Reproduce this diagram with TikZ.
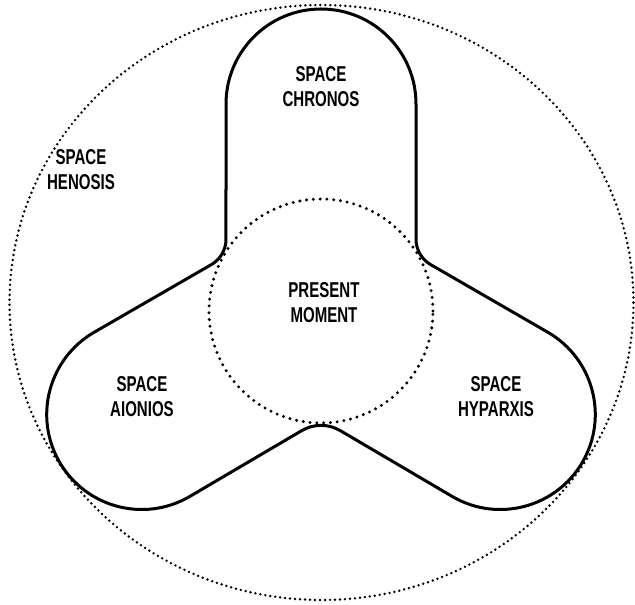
\documentclass[tikz,border=0pt]{standalone}
\usepackage{fontspec}
\newfontfamily\labfont[FakeStretch=0.7]{Liberation Sans}
\usetikzlibrary{calc}
\begin{document}
\begin{tikzpicture}[x=1pt,y=1pt,
  region/.style={line width=3pt, line join=round},
  innerdots/.style={line width=3.3pt, line cap=round, dash pattern=on 0pt off 6.8pt},
  outerdots/.style={line width=2.7pt, line cap=round, dash pattern=on 0pt off 5pt},
  lab/.style={font=\labfont\bfseries\fontsize{21.5}{25}\selectfont, align=center, inner sep=0pt, text=black}]
\useasboundingbox (0,0) rectangle (635,605);
\fill[white] (0,0) rectangle (635,605);
\coordinate (C) at (321,294);
\coordinate (N1) at ($(C)+(30:109.7)$);
\coordinate (N2) at ($(C)+(150:109.7)$);
\coordinate (N3) at ($(C)+(270:108.5)$);
\coordinate (N1a) at ($(N1)+(330:17)$);
\coordinate (N1b) at ($(N1)+(90:17)$);
\coordinate (N2a) at ($(N2)+(90:17)$);
\coordinate (N2b) at ($(N2)+(210:17)$);
\coordinate (N3a) at ($(N3)+(210:22)$);
\coordinate (N3b) at ($(N3)+(330:22)$);

\draw[outerdots] (321.5,302.5) ellipse [x radius=312, y radius=297.5];
\draw[innerdots] (C) circle[radius=112];

\draw[region]
 ($(C)+(90:207)+(0:95)$) arc[start angle=0,end angle=180,radius=95]
 -- (N2a) .. controls ($(N2a)!0.62!(N2)$) and ($(N2b)!0.62!(N2)$) .. (N2b)
 -- ($(C)+(210:207)+(120:95)$) arc[start angle=120,end angle=300,radius=95]
 -- (N3a) .. controls ($(N3a)!0.62!(N3)$) and ($(N3b)!0.62!(N3)$) .. (N3b)
 -- ($(C)+(330:207)+(240:95)$) arc[start angle=240,end angle=420,radius=95]
 -- (N1a) .. controls ($(N1a)!0.62!(N1)$) and ($(N1b)!0.62!(N1)$) .. (N1b)
 -- cycle;

\node[lab] (chronos) at (321,518) {SPACE\\CHRONOS};
\node[lab] (henosis) at (81,435.5) {SPACE\\HENOSIS};
\node[lab] (present) at (324,302.5) {PRESENT\\MOMENT};
\node[lab] (aionios) at (142,208) {SPACE\\AIONIOS};
\node[lab] (hyparxis) at (496,208) {SPACE\\HYPARXIS};
\end{tikzpicture}
\end{document}
